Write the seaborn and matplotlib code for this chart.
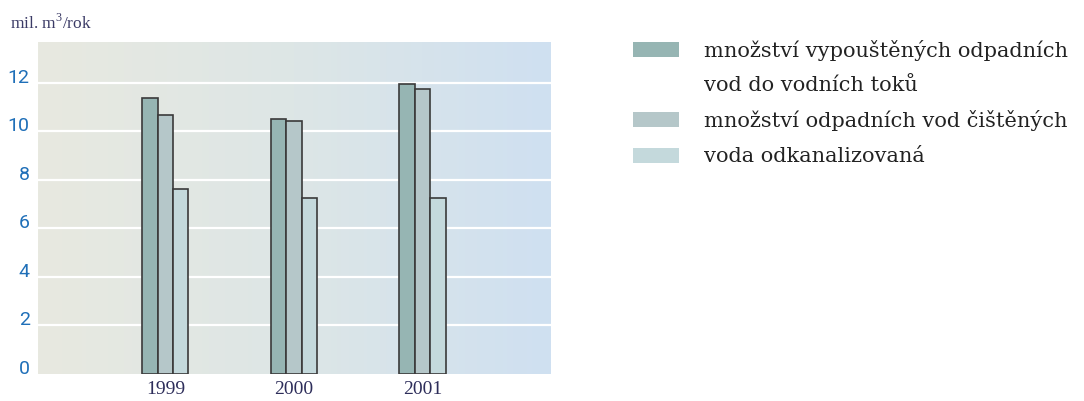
import numpy as np
import pandas as pd
import matplotlib.pyplot as plt
import seaborn as sns
from matplotlib.colors import LinearSegmentedColormap
from matplotlib.patches import Rectangle

years = ["1999", "2000", "2001"]
series = [
    "množství vypouštěných odpadních\nvod do vodních toků",
    "množství odpadních vod čištěných",
    "voda odkanalizovaná",
]
vypoustene = [11.35, 10.50, 11.95]
cistene = [10.65, 10.43, 11.75]
odkanalizovana = [7.62, 7.26, 7.25]
colors = ["#96b5b3", "#b5c7c9", "#c4d9dc"]

df = pd.DataFrame({
    "rok": years * 3,
    "serie": [s for s in series for _ in years],
    "hodnota": vypoustene + cistene + odkanalizovana,
})

sns.set_theme(style="white")
plt.rcParams["font.family"] = ["DejaVu Serif"]
plt.rcParams["mathtext.fontset"] = "custom"
plt.rcParams["mathtext.rm"] = "Liberation Serif"

fig = plt.figure(figsize=(10.84, 4.01), dpi=100)
ax = fig.add_axes([38 / 1084, 27 / 401, 513 / 1084, 332 / 401])

# background gradient of the plot area
grad = LinearSegmentedColormap.from_list("bg", ["#e8e9e0", "#dde6e6", "#cfe0f1"])
ax.imshow(np.linspace(0, 1, 256).reshape(1, -1), cmap=grad, aspect="auto",
          extent=[0, 1, 0, 1], transform=ax.transAxes, zorder=0)

sns.barplot(data=df, x="rok", y="hodnota", hue="serie", hue_order=series,
            palette=colors, width=0.36, edgecolor="#3a3a3a", linewidth=1.2,
            saturation=1, legend=False, ax=ax, zorder=3)

ax.set_xlim(-0.99, 3.0)
ax.set_ylim(0, 13.67)
ax.set_yticks(range(0, 13, 2))
for y in range(2, 13, 2):
    ax.axhline(y, color="white", linewidth=1.6, zorder=2)
for s in ax.spines.values():
    s.set_visible(False)
ax.set_xlabel("")
ax.set_ylabel("")
ax.tick_params(axis="both", length=0)
ax.tick_params(axis="y", pad=6, labelsize=14, labelcolor="#1f6fb8")
ax.tick_params(axis="x", pad=5, labelsize=14, labelcolor="#2d2d5a")
for lbl in ax.get_yticklabels():
    lbl.set_fontfamily("Roboto")
    lbl.set_verticalalignment("baseline")
for lbl in ax.get_xticklabels():
    lbl.set_fontfamily("Liberation Serif")

fig.text(10 / 1084, 1 - 29 / 401, "mil. m$^{3}$/rok", fontsize=12.5,
         family="Liberation Serif", color="#3b3b66", va="baseline")

# legend drawn by hand so the swatch sits on the first text line
swatch_tops = [42, 112, 148]
line_bases = [[57, 91], [127], [162]]
for top, bases, label, c in zip(swatch_tops, line_bases, series, colors):
    fig.add_artist(Rectangle((633 / 1084, 1 - (top + 15) / 401), 46 / 1084, 15 / 401,
                             transform=fig.transFigure, facecolor=c, edgecolor="none"))
    for base, line in zip(bases, label.split("\n")):
        fig.text(704 / 1084, 1 - base / 401, line, fontsize=15, color="#222222",
                 va="baseline")

fig.savefig("out.png", dpi=100)
